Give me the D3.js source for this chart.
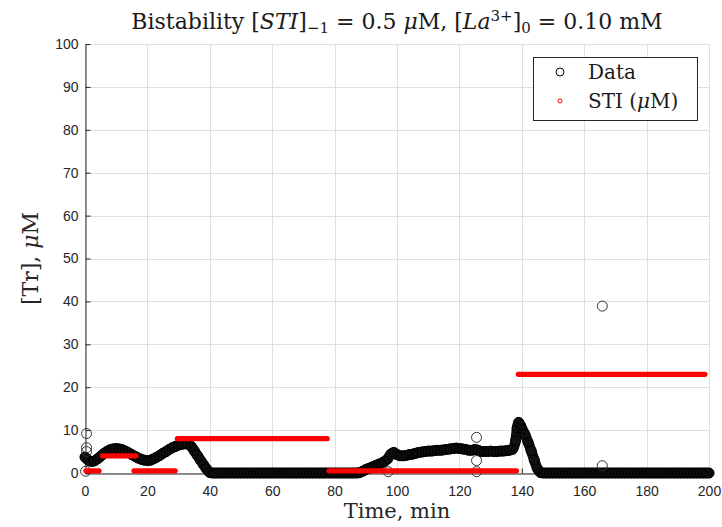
<!DOCTYPE html>
<html>
<head>
<meta charset="utf-8">
<script src="https://cdn.jsdelivr.net/npm/d3@7"></script>
<style>
  html, body { margin: 0; padding: 0; background: #fff; }
  svg { display: block; }
</style>
</head>
<body>
<svg id="chart" width="722" height="527"></svg>
<script>
// Measured thrombin trace, [Tr] in µM against time in minutes
const dataTime = [
  0, 1, 2, 3, 4, 5, 6, 7, 8, 9, 10, 11, 12, 13, 14, 15, 16, 17, 18, 19,
  20, 21, 22, 23, 24, 25, 26, 27, 28, 29, 30, 31, 32, 33, 34, 35, 36, 37, 38, 39,
  40, 41, 42, 43, 44, 45, 46, 47, 48, 49, 50, 51, 52, 53, 54, 55, 56, 57, 58, 59,
  60, 61, 62, 63, 64, 65, 66, 67, 68, 69, 70, 71, 72, 73, 74, 75, 76, 77, 78, 79,
  80, 81, 82, 83, 84, 85, 86, 87, 88, 89, 90, 91, 92, 93, 94, 95, 96, 97, 98, 99,
  100, 101, 102, 103, 104, 105, 106, 107, 108, 109, 110, 111, 112, 113, 114, 115, 116, 117, 118, 119,
  120, 121, 122, 123, 124, 125, 126, 127, 128, 129, 130, 131, 132, 133, 134, 135, 136, 137, 138, 138.5,
  139, 139.5, 140, 141, 142, 143, 144, 145, 146, 147, 148, 149, 150, 151, 152, 153, 154, 155, 156, 157,
  158, 159, 160, 161, 162, 163, 164, 165, 166, 167, 168, 169, 170, 171, 172, 173, 174, 175, 176, 177,
  178, 179, 180, 181, 182, 183, 184, 185, 186, 187, 188, 189, 190, 191, 192, 193, 194, 195, 196, 197,
  198, 199, 200
];
const dataTr = [
  3.7, 3.0, 2.7, 2.8, 3.3, 3.9, 4.5, 5.0, 5.4, 5.6, 5.7, 5.6, 5.4, 5.1, 4.7, 4.3, 3.9, 3.5, 3.2, 3.0,
  2.9, 3.0, 3.3, 3.7, 4.1, 4.6, 5.0, 5.5, 5.9, 6.2, 6.5, 6.7, 6.8, 6.7, 6.2, 5.2, 4.1, 3.0, 1.9, 0.9,
  0.1, 0, 0, 0, 0, 0, 0, 0, 0, 0, 0, 0, 0, 0, 0, 0, 0, 0, 0, 0,
  0, 0, 0, 0, 0, 0, 0, 0, 0, 0, 0, 0, 0, 0, 0, 0, 0, 0, 0, 0,
  0, 0, 0, 0, 0, 0, 0, 0, 0.1, 0.4, 0.8, 1.1, 1.4, 1.7, 2.0, 2.3, 2.7, 3.3, 4.4, 4.8,
  4.3, 4.0, 4.0, 4.1, 4.3, 4.4, 4.6, 4.8, 4.9, 5.0, 5.1, 5.1, 5.2, 5.3, 5.3, 5.4, 5.5, 5.6, 5.7, 5.8,
  5.7, 5.6, 5.5, 5.3, 5.3, 5.5, 5.3, 5.0, 5.0, 5.0, 5.1, 5.0, 5.0, 5.1, 5.1, 5.2, 5.3, 5.5, 7.5, 10.5,
  11.8, 11.2, 10.4, 9.0, 7.2, 5.2, 3.0, 1.0, 0.1, 0, 0, 0, 0, 0, 0, 0, 0, 0, 0, 0,
  0, 0, 0, 0, 0, 0, 0, 0, 0, 0, 0, 0, 0, 0, 0, 0, 0, 0, 0, 0,
  0, 0, 0, 0, 0, 0, 0, 0, 0, 0, 0, 0, 0, 0, 0, 0, 0, 0, 0, 0,
  0, 0, 0
];

// Isolated measurements away from the main trace
const strayTime = [0.5, 0.5, 0.5, 0.2, 97.2, 125.5, 125.5, 125.5, 165.8, 165.8];
const strayTr   = [9.2, 5.9, 5.0, 0.4, 0.3, 8.3, 2.9, 0.3, 38.9, 1.7];

// STI input, held constant over each interval (µM)
const stiStart = [0.3, 5.6, 15.7, 29.6, 78.2, 138.9];
const stiEnd   = [4.5, 16.3, 28.9, 77.6, 138.3, 198.7];
const stiLevel = [0.5, 4, 0.5, 8, 0.5, 23];

const xTicks = [0, 20, 40, 60, 80, 100, 120, 140, 160, 180, 200];
const yTicks = [0, 10, 20, 30, 40, 50, 60, 70, 80, 90, 100];

const svg = d3.select("#chart");
const margin = { left: 85, right: 13, top: 44, bottom: 54 };
const W = 722, H = 527;
const x = d3.scaleLinear().domain([0, 200]).range([margin.left, W - margin.right]);
const y = d3.scaleLinear().domain([0, 100]).range([H - margin.bottom, margin.top]);

const tickFont = "'Liberation Sans', Arial, sans-serif";
const serif = "'DejaVu Serif', 'Liberation Serif', serif";

// grid
const grid = svg.append("g").attr("stroke", "#dfdfdf").attr("stroke-width", 1);
grid.selectAll("line.gx").data(xTicks).join("line")
  .attr("x1", d => Math.round(x(d)) + 0.5).attr("x2", d => Math.round(x(d)) + 0.5)
  .attr("y1", y(0)).attr("y2", y(100));
grid.selectAll("line.gy").data(yTicks).join("line")
  .attr("y1", d => Math.round(y(d)) + 0.5).attr("y2", d => Math.round(y(d)) + 0.5)
  .attr("x1", x(0)).attr("x2", x(200));

// axes (ticks pointing inward)
const xAxis = svg.append("g")
  .attr("transform", `translate(0,${Math.round(y(0)) + 0.5})`)
  .call(d3.axisTop(x).tickValues(xTicks).tickSize(5).tickSizeOuter(0).tickFormat(d3.format("d")));
xAxis.selectAll("text").attr("y", 13).attr("dy", "0.71em");
const yAxis = svg.append("g")
  .attr("transform", `translate(${Math.round(x(0)) + 0.5},0)`)
  .call(d3.axisRight(y).tickValues(yTicks).tickSize(5).tickSizeOuter(0).tickFormat(d3.format("d")));
yAxis.selectAll("text").attr("x", -7).attr("text-anchor", "end");
[xAxis, yAxis].forEach(a => {
  a.select(".domain").attr("stroke", "#262626");
  a.selectAll(".tick line").attr("stroke", "#262626");
  a.selectAll("text").attr("fill", "#262626").style("font-family", tickFont).style("font-size", "14px");
});

// Data: dense trace rendered as a band of overlapping circles
const line = d3.line().x((d, i) => x(dataTime[i])).y(d => y(d)).curve(d3.curveMonotoneX);
svg.append("path")
  .attr("d", line(dataTr))
  .attr("fill", "none")
  .attr("stroke", "#111")
  .attr("stroke-width", 10.5)
  .attr("stroke-linecap", "round")
  .attr("stroke-linejoin", "round");
svg.append("g").selectAll("circle").data(dataTr).join("circle")
  .attr("cx", (d, i) => x(dataTime[i])).attr("cy", d => y(d)).attr("r", 5)
  .attr("fill", "none").attr("stroke", "#000").attr("stroke-width", 1);
svg.append("g").selectAll("circle").data(strayTr).join("circle")
  .attr("cx", (d, i) => x(strayTime[i])).attr("cy", d => y(d)).attr("r", 5)
  .attr("fill", "none").attr("stroke", "#333").attr("stroke-width", 1);

// STI steps
svg.append("g").selectAll("line").data(stiLevel).join("line")
  .attr("x1", (d, i) => x(stiStart[i])).attr("x2", (d, i) => x(stiEnd[i]))
  .attr("y1", d => y(d)).attr("y2", d => y(d))
  .attr("stroke", "#ff0000").attr("stroke-width", 5.2).attr("stroke-linecap", "round");
svg.append("g").selectAll("line").data(stiLevel).join("line")
  .attr("x1", (d, i) => x(stiStart[i])).attr("x2", (d, i) => x(stiEnd[i]))
  .attr("y1", d => y(d)).attr("y2", d => y(d))
  .attr("stroke", "#e81010").attr("stroke-width", 1).attr("stroke-dasharray", "5,2");

// title
const title = svg.append("text")
  .attr("x", (x(0) + x(200)) / 2).attr("y", 29)
  .attr("text-anchor", "middle")
  .style("font-family", serif).style("font-size", "22px").attr("fill", "#1a1a1a");
title.append("tspan").text("Bistability [");
title.append("tspan").style("font-style", "italic").text("STI");
title.append("tspan").text("]");
title.append("tspan").attr("dy", 4).style("font-size", "15px").text("−1");
title.append("tspan").attr("dy", -4).text(" = 0.5 ");
title.append("tspan").style("font-style", "italic").text("μ");
title.append("tspan").text("M, [");
title.append("tspan").style("font-style", "italic").text("La");
title.append("tspan").attr("dy", -8).style("font-size", "15px").text("3+");
title.append("tspan").attr("dy", 8).text("]");
title.append("tspan").attr("dy", 4).style("font-size", "15px").text("0");
title.append("tspan").attr("dy", -4).text(" = 0.10 mM");

// axis labels
svg.append("text")
  .attr("x", (x(0) + x(200)) / 2).attr("y", 518)
  .attr("text-anchor", "middle")
  .style("font-family", serif).style("font-size", "21px").attr("fill", "#262626")
  .text("Time, min");
const yl = svg.append("text")
  .attr("transform", `translate(38,${(y(0) + y(100)) / 2}) rotate(-90)`)
  .attr("text-anchor", "middle")
  .style("font-family", serif).style("font-size", "22px").attr("fill", "#262626");
yl.append("tspan").text("[Tr], ");
yl.append("tspan").style("font-style", "italic").text("μ");
yl.append("tspan").text("M");

// legend
const lg = svg.append("g");
lg.append("rect").attr("x", 533.5).attr("y", 57.5).attr("width", 164).attr("height", 63)
  .attr("fill", "#fff").attr("stroke", "#262626").attr("stroke-width", 1);
lg.append("circle").attr("cx", 560).attr("cy", 72).attr("r", 4)
  .attr("fill", "none").attr("stroke", "#000").attr("stroke-width", 1);
lg.append("circle").attr("cx", 560).attr("cy", 101).attr("r", 2)
  .attr("fill", "none").attr("stroke", "#ff0000").attr("stroke-width", 1);
lg.append("text").attr("x", 588).attr("y", 79)
  .style("font-family", serif).style("font-size", "20px").attr("fill", "#1a1a1a").text("Data");
const lt = lg.append("text").attr("x", 588).attr("y", 108)
  .style("font-family", serif).style("font-size", "20px").attr("fill", "#1a1a1a");
lt.append("tspan").text("STI (");
lt.append("tspan").style("font-style", "italic").text("μ");
lt.append("tspan").text("M)");
</script>
</body>
</html>
